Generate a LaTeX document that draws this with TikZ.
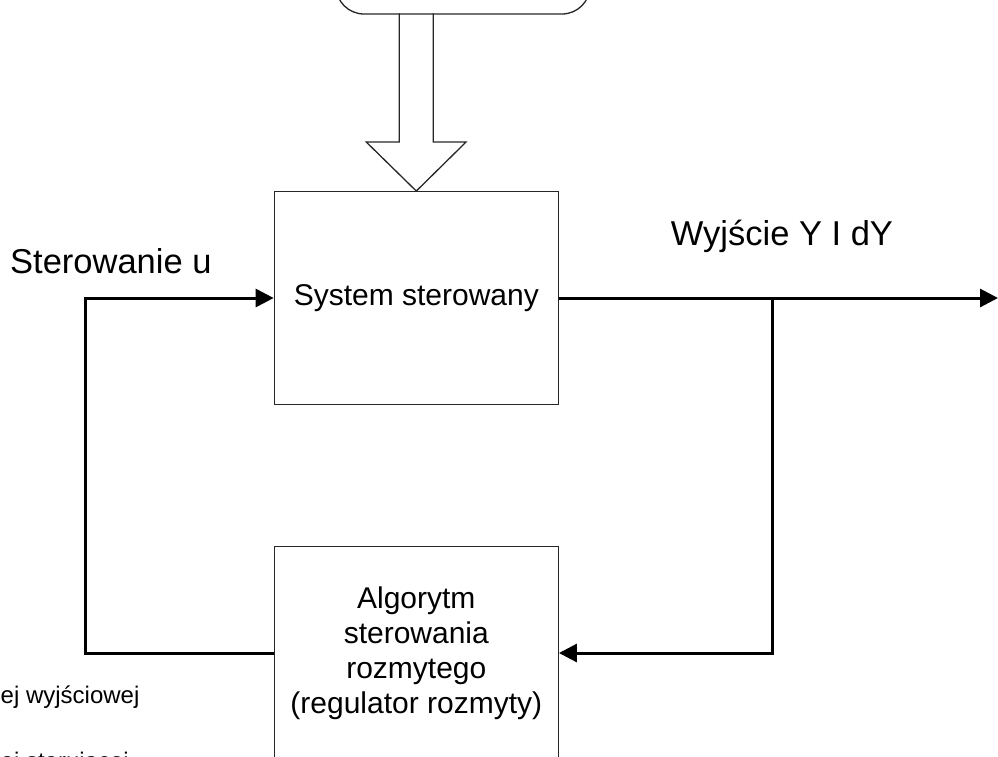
\documentclass[tikz,border=0pt]{standalone}
\usepackage{fontspec}
\setmainfont{Liberation Sans}
\usetikzlibrary{arrows.meta,calc}
\tikzset{
  blockbox/.style={draw=black!85, line width=1.3pt, rectangle, minimum width=284pt, minimum height=212.6pt, inner sep=0pt, align=center, font=\fontsize{30}{35}\selectfont},
  srcbox/.style={draw=black!85, line width=1.3pt, rectangle, rounded corners=28pt, minimum width=254pt, minimum height=80pt, inner sep=0pt},
  conn/.style={draw=black, line width=3pt},
  tip/.style={-{Triangle[length=18pt,width=18pt]}},
  biglabel/.style={font=\fontsize{34.5}{40}\selectfont, inner sep=0pt, anchor=base west},
  smalllabel/.style={font=\fontsize{24}{28}\selectfont, inner sep=0pt, anchor=base west},
  hollow/.style={draw=black!85, line width=1.3pt, line join=miter}
}
\begin{document}
\begin{tikzpicture}[x=1pt,y=-1pt]
\path[use as bounding box] (0,0) rectangle (998,756);
\clip (0,0) rectangle (998,756);

% blocks
\node[srcbox] (src) at (463,-26) {};
\node[blockbox] (sys) at (416.3,298) {System sterowany};
\node[blockbox] (alg) at (416.3,653) {Algorytm\\sterowania\\rozmytego\\(regulator rozmyty)};

% hollow arrow from source box to system
\draw[hollow] ($(sys.north)+(-17,-177.7)$) -- ($(sys.north)+(-17,-49)$) -- ($(sys.north)+(-50,-49)$)
  -- (sys.north) -- ($(sys.north)+(49.7,-49)$) -- ($(sys.north)+(17,-49)$) -- ($(sys.north)+(17,-177.7)$);

% coordinates
\coordinate (out) at (998,298);
\coordinate (br) at (772,298);
\coordinate (fbtop) at (85,298);

% connectors
\draw[conn,tip] (sys.east) -- (out);
\draw[conn,tip] (br) |- (alg.east);
\draw[conn,tip] (alg.west) -| (fbtop) -- (sys.west);

% labels
\node[biglabel] (lu) at (10,273) {Sterowanie u};
\node[biglabel] (ly) at (670.7,245.7) {Wyjście Y I dY};
\node[smalllabel] (l1) at (0.5,703) {ej wyjściowej};
\node[smalllabel] (l2) at (0.5,769) {ej sterującej};
\end{tikzpicture}
\end{document}
